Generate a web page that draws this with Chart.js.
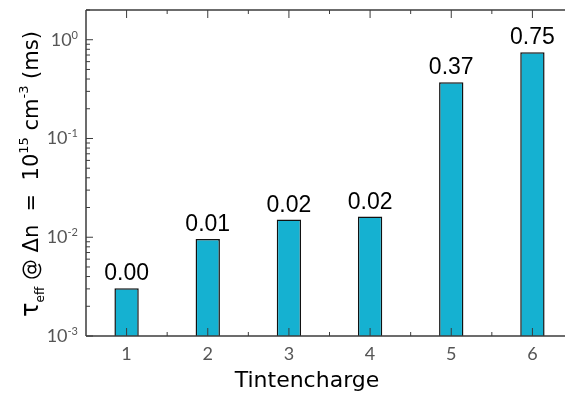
<!DOCTYPE html>
<html>
<head>
<meta charset="utf-8">
<script src="https://cdn.jsdelivr.net/npm/chart.js@4/dist/chart.umd.min.js"></script>
<style>
  html, body { margin: 0; padding: 0; background: #fff; overflow: hidden; }
  #wrap { width: 580px; height: 396px; }
</style>
</head>
<body>
<div id="wrap"><canvas id="c" width="580" height="396"></canvas></div>
<script>
// Lifetime per ink batch (ms), log scale
const categories = ['1', '2', '3', '4', '5', '6'];
const tauEff = [0.00304, 0.0096, 0.0151, 0.0162, 0.372, 0.748];
const yDecades = [0.001, 0.01, 0.1, 1];
const yExponents = ['-3', '-2', '-1', '0'];
const xTitle = 'Tintencharge';

const AXIS_FONT = 'Lato, "Open Sans", sans-serif';
const TITLE_FONT = '"DejaVu Sans", sans-serif';
const VALUE_FONT = '"Liberation Sans", Arial, sans-serif';
const FRAME = '#3c3c3c';
const TICK_TEXT = '#555555';

// Draws frame, inward ticks, tick labels, axis titles and value labels
const decor = {
  id: 'decor',
  afterDatasetsDraw(chart) {
    const ctx = chart.ctx;
    const a = chart.chartArea;
    const xs = chart.scales.x;
    const ys = chart.scales.y;
    ctx.save();

    // frame
    ctx.strokeStyle = FRAME;
    ctx.lineWidth = 1.5;
    ctx.beginPath();
    ctx.moveTo(a.left, a.top); ctx.lineTo(a.right, a.top);
    ctx.moveTo(a.left, a.top); ctx.lineTo(a.left, a.bottom);
    ctx.moveTo(a.left, a.bottom); ctx.lineTo(a.right, a.bottom);
    ctx.moveTo(a.right, a.top); ctx.lineTo(a.right, a.bottom);
    ctx.stroke();

    // y ticks (major decades + minor 2..9)
    ctx.lineWidth = 1;
    ctx.beginPath();
    for (let d = 0; d < yDecades.length; d++) {
      const dec = yDecades[d];
      const y = ys.getPixelForValue(dec);
      ctx.moveTo(a.left, y); ctx.lineTo(a.left + 7, y);
      for (let m = 2; m <= 9; m++) {
        const v = dec * m;
        if (v > ys.max) break;
        const ym = ys.getPixelForValue(v);
        ctx.moveTo(a.left, ym); ctx.lineTo(a.left + 4, ym);
      }
    }
    // x ticks at categories and half-way points, top and bottom
    const step = xs.getPixelForValue(1) - xs.getPixelForValue(0);
    for (let i = 0; i < categories.length; i++) {
      const x = xs.getPixelForValue(i);
      ctx.moveTo(x, a.bottom); ctx.lineTo(x, a.bottom - 8);
      ctx.moveTo(x, a.top); ctx.lineTo(x, a.top + 8);
      const h = x + step / 2;
      ctx.moveTo(h, a.bottom); ctx.lineTo(h, a.bottom - 4);
      ctx.moveTo(h, a.top); ctx.lineTo(h, a.top + 4);
    }
    ctx.stroke();

    // y tick labels: 10 with superscript exponent
    ctx.fillStyle = TICK_TEXT;
    ctx.textBaseline = 'alphabetic';
    for (let d = 0; d < yDecades.length; d++) {
      const y = ys.getPixelForValue(yDecades[d]);
      ctx.font = '11px ' + AXIS_FONT;
      ctx.textAlign = 'right';
      const expW = ctx.measureText(yExponents[d]).width;
      ctx.fillText(yExponents[d], a.left - 8, y - 1);
      ctx.font = '18px ' + AXIS_FONT;
      ctx.fillText('10', a.left - 8 - expW, y + 6);
    }

    // x tick labels
    ctx.font = '18px ' + AXIS_FONT;
    ctx.textAlign = 'center';
    ctx.textBaseline = 'middle';
    for (let i = 0; i < categories.length; i++) {
      ctx.fillText(categories[i], xs.getPixelForValue(i), 354);
    }

    // x axis title
    ctx.fillStyle = '#000';
    ctx.font = '22px ' + TITLE_FONT;
    ctx.fillText(xTitle, 307, 381);

    // y axis title with sub/superscripts, rotated
    const segs = [
      { t: '\u03C4', s: 24, dy: 0 },
      { t: 'eff', s: 12, dy: 6 },
      { t: ' @ \u0394n  =  10', s: 21, dy: 0 },
      { t: '15', s: 13, dy: -10 },
      { t: ' cm', s: 21, dy: 0 },
      { t: '-3', s: 13, dy: -10 },
      { t: ' (ms)', s: 21, dy: 0 }
    ];
    let total = 0;
    for (const sg of segs) {
      ctx.font = sg.s + 'px ' + TITLE_FONT;
      sg.w = ctx.measureText(sg.t).width;
      total += sg.w;
    }
    ctx.save();
    ctx.translate(38, 174);
    ctx.rotate(-Math.PI / 2);
    ctx.textAlign = 'left';
    ctx.textBaseline = 'alphabetic';
    let cx = -total / 2;
    for (const sg of segs) {
      ctx.font = sg.s + 'px ' + TITLE_FONT;
      ctx.fillText(sg.t, cx, sg.dy);
      cx += sg.w;
    }
    ctx.restore();

    // value labels above bars
    const meta = chart.getDatasetMeta(0);
    ctx.font = '23px ' + VALUE_FONT;
    ctx.textAlign = 'center';
    ctx.textBaseline = 'alphabetic';
    ctx.fillStyle = '#000';
    meta.data.forEach((bar, i) => {
      ctx.fillText(tauEff[i].toFixed(2), bar.x, bar.y - 8);
    });

    ctx.restore();
  }
};

new Chart(document.getElementById('c'), {
  type: 'bar',
  data: {
    labels: categories,
    datasets: [{
      data: tauEff,
      backgroundColor: '#15B1D1',
      borderColor: '#111111',
      borderWidth: 1.5,
      borderSkipped: 'bottom',
      barPercentage: 0.3,
      categoryPercentage: 1.0
    }]
  },
  options: {
    responsive: false,
    animation: false,
    devicePixelRatio: 1,
    layout: { padding: { left: 86, top: 10, right: 7, bottom: 60 } },
    plugins: { legend: { display: false }, tooltip: { enabled: false } },
    scales: {
      x: { type: 'category', offset: true, display: false },
      y: { type: 'logarithmic', min: 0.001, max: 2, display: false }
    }
  },
  plugins: [decor]
});
</script>
</body>
</html>
